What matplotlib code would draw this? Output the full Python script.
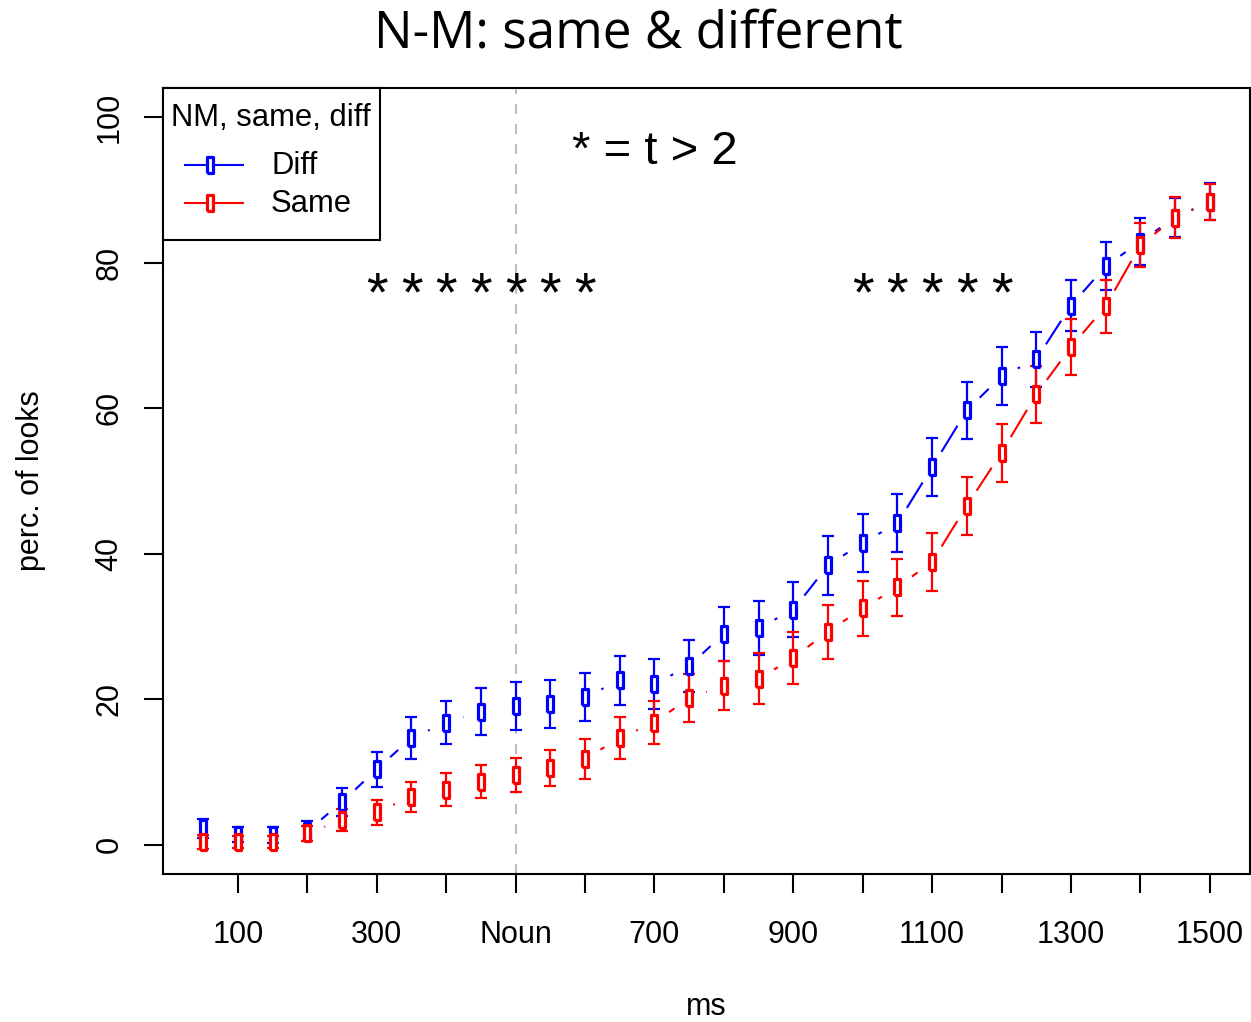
"""
N-M looks over time: same vs different, with standard error bars
"""

import numpy as np
import matplotlib
matplotlib.use('Agg')
import matplotlib.pyplot as plt
from matplotlib.collections import LineCollection
from matplotlib.lines import Line2D
from matplotlib.patches import Rectangle

plt.rcParams['font.family'] = ['Liberation Sans', 'DejaVu Sans']

# time bins (ms)
ms = [50, 100, 150, 200, 250, 300, 350, 400, 450, 500,
      550, 600, 650, 700, 750, 800, 850, 900, 950, 1000,
      1050, 1100, 1150, 1200, 1250, 1300, 1350, 1400, 1450, 1500]

# percentage of looks, Diff condition
diff_mean = [2.3, 1.4, 1.4, 1.9, 5.9, 10.4, 14.7, 16.8, 18.3, 19.1,
             19.4, 20.3, 22.6, 22.1, 24.6, 29.0, 29.8, 32.3, 38.4, 41.5,
             44.2, 51.9, 59.7, 64.4, 66.7, 74.1, 79.5, 82.9, 86.2, 88.4]
diff_se = [1.3, 1.0, 1.1, 1.4, 1.9, 2.4, 2.9, 3.0, 3.2, 3.3,
           3.3, 3.3, 3.4, 3.4, 3.6, 3.7, 3.7, 3.8, 4.0, 4.0,
           4.0, 4.0, 3.9, 4.0, 3.8, 3.5, 3.3, 3.2, 2.7, 2.6]

# percentage of looks, Same condition
same_mean = [0.4, 0.4, 0.4, 1.6, 3.4, 4.5, 6.6, 7.6, 8.7, 9.6,
             10.6, 11.8, 14.7, 16.8, 20.2, 21.9, 22.8, 25.7, 29.3, 32.5,
             35.4, 38.9, 46.6, 53.9, 61.9, 68.4, 74.0, 82.4, 86.2, 88.3]
same_se = [0.9, 0.8, 0.8, 1.0, 1.5, 1.7, 2.1, 2.3, 2.3, 2.4,
           2.5, 2.7, 2.9, 3.0, 3.3, 3.4, 3.5, 3.6, 3.7, 3.8,
           3.9, 4.0, 4.0, 4.0, 3.9, 3.8, 3.6, 3.0, 2.8, 2.5]

# bins where t > 2
sig_ms = [300, 350, 400, 450, 500, 550, 600, 1000, 1050, 1100, 1150, 1200]

xticks = [100, 200, 300, 400, 500, 600, 700, 800, 900, 1000, 1100, 1200, 1300, 1400, 1500]
xtick_labels = ['100', '', '300', '', 'Noun', '', '700', '', '900', '', '1100', '', '1300', '', '1500']
yticks = [0, 20, 40, 60, 80, 100]

noun_onset = 500

W, H = 1251, 1022
fig = plt.figure(figsize=(W / 100, H / 100), dpi=100)
ax = fig.add_axes([163 / W, 1 - 874 / H, (1250 - 163) / W, (874 - 88) / H])
ax.set_xlim(-8, 1558)
ax.set_ylim(-4, 104)

# tall open rectangle, like a stretched pch=0
rect = [(-0.2, -0.5), (0.2, -0.5), (0.2, 0.5), (-0.2, 0.5), (-0.2, -0.5)]

ax.axvline(noun_onset, color='#BEBEBE', lw=1.5, ls=(0, (4.8, 4.8)), zorder=1)


def gapped_segments(x, y, gap=18):
    # type="b" style: segments between points, cut short around each point
    tr = ax.transData
    pts = tr.transform(np.column_stack([x, y]))
    segs = []
    for p, q in zip(pts[:-1], pts[1:]):
        d = q - p
        L = np.hypot(*d)
        if L <= 2 * gap:
            continue
        u = d / L
        segs.append(tr.inverted().transform([p + gap * u, q - gap * u]))
    return segs


for mean, se, col in [(diff_mean, diff_se, '#0000FF'), (same_mean, same_se, '#FF0000')]:
    ax.add_collection(LineCollection(gapped_segments(ms, mean), colors=col, linewidths=1.5, zorder=2))
    ax.errorbar(ms, mean, yerr=se, fmt='none', ecolor=col, elinewidth=1.6,
                capsize=4.3, capthick=1.6, zorder=3)
    ax.plot(ms, mean, ls='none', marker=rect, ms=11, mew=2.3, mec=col, mfc='white', zorder=4)

for s in sig_ms:
    ax.text(s, 75.3, '*', ha='center', va='center', fontsize=40)

ax.text(700, 95.2, '* = t > 2', ha='center', va='center', fontsize=34)

ax.set_xticks(xticks)
ax.set_xticklabels(xtick_labels)
ax.set_yticks(yticks)
ax.tick_params(direction='out', length=13.7, width=1.5, labelsize=22)
ax.tick_params(axis='x', pad=19.5)
ax.tick_params(axis='y', pad=14, labelrotation=90)
for lab in ax.get_yticklabels():
    lab.set_verticalalignment('center')
for sp in ax.spines.values():
    sp.set_linewidth(1.5)

ax.set_xlabel('ms', fontsize=22)
ax.xaxis.set_label_coords(0.5, -0.1505)
ax.set_ylabel('perc. of looks', fontsize=22)
ax.yaxis.set_label_coords(-0.1076, 0.5)

fig.text(638.5 / W, 1 - 34 / H, 'N-M: same & different', ha='center', va='center',
         fontsize=37, family='Open Sans')

# legend box drawn by hand, R style
def fx(px):
    return px / W


def fy(py):
    return 1 - py / H


ax.add_artist(Rectangle((fx(163), fy(240)), (380 - 163) / W, 152 / H, transform=fig.transFigure,
                        facecolor='white', edgecolor='black', lw=1.5, zorder=6, clip_on=False))
ax.text(fx(171), fy(118), 'NM, same, diff', transform=fig.transFigure, ha='left', va='center',
        fontsize=22.3, zorder=7)
for lab, col, py in [('Diff', '#0000FF', 166), ('Same', '#FF0000', 204)]:
    ax.add_artist(Line2D([fx(185), fx(210), fx(243)], [fy(py - 1)] * 3, transform=fig.transFigure,
                         color=col, lw=1.5, marker=rect, markevery=[1], ms=11, mew=2.3,
                         mec=col, mfc='white', zorder=7, clip_on=False))
    ax.text(fx(271), fy(py), lab, transform=fig.transFigure, ha='left', va='center',
            fontsize=22.3, zorder=7)

fig.savefig('out.png', dpi=100)
